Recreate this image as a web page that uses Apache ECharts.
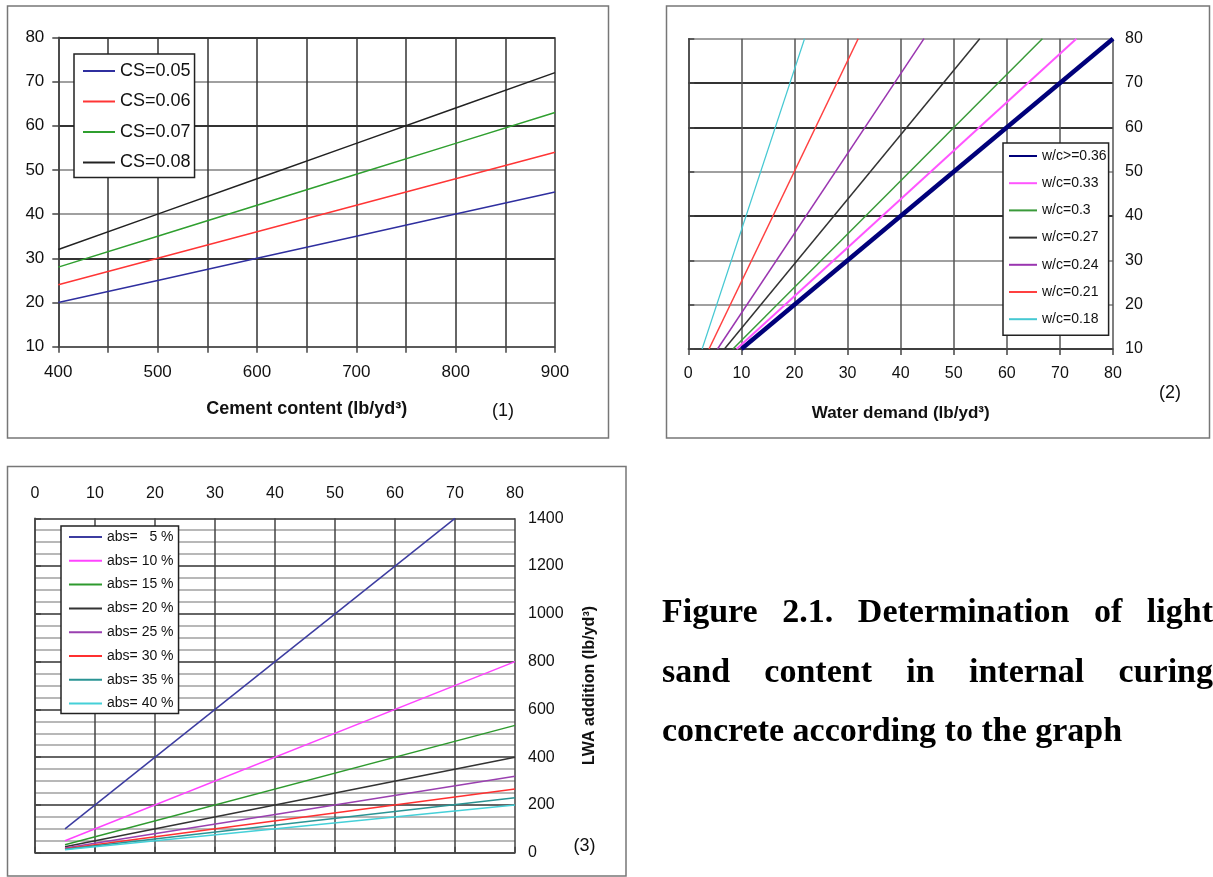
<!DOCTYPE html>
<html>
<head>
<meta charset="utf-8">
<script src="https://cdn.jsdelivr.net/npm/echarts@6/dist/echarts.min.js"></script>
<style>
  body { margin: 0; background: #fff; }
  #main { position: absolute; left: 0; top: 0; width: 1213px; height: 877px; }
  .cap { position: absolute; left: 662px; width: 551px; font: bold 34px "Liberation Serif", "Times New Roman", serif;
         line-height: 34px; color: #000; white-space: nowrap; }
  .just { text-align: justify; text-align-last: justify; white-space: normal; }
</style>
</head>
<body>
<div id="main"></div>
<div class="cap just" style="top:594px">Figure 2.1. Determination of light</div>
<div class="cap just" style="top:654px">sand content in internal curing</div>
<div class="cap" style="top:713px">concrete according to the graph</div>
<script>
// (1) cement content vs CS
const cementContent = [400, 500, 600, 700, 800, 900];
const csNames = ['CS=0.05', 'CS=0.06', 'CS=0.07', 'CS=0.08'];
const cs005 = [20, 25, 30, 35, 40, 45];
const cs006 = [24, 30, 36, 42, 48, 54];
const cs007 = [28, 35, 42, 49, 56, 63];
const cs008 = [32, 40, 48, 56, 64, 72];

// (2) water demand, one straight line per w/c, read at y=10 and y=80
const wcNames = ['w/c>=0.36', 'w/c=0.33', 'w/c=0.3', 'w/c=0.27', 'w/c=0.24', 'w/c=0.21', 'w/c=0.18'];
const wcYEnds = [10, 80];
const wcStartX = [10, 9.1, 8.4, 6.8, 5.5, 3.9, 2.6];
const wcEndX = [80, 73.1, 66.7, 54.9, 44.4, 32.0, 21.9];

// (3) LWA addition
const absNames = ['abs=   5 %', 'abs= 10 %', 'abs= 15 %', 'abs= 20 %', 'abs= 25 %', 'abs= 30 %', 'abs= 35 %', 'abs= 40 %'];
const absStartX = [5, 5, 5, 5, 5, 5, 5, 5];
const absEndX = [70, 80, 80, 80, 80, 80, 80, 80];
const absStartY = [100, 50, 33, 25, 20, 17, 14, 12];
const absEndY = [1400, 800, 533, 400, 320, 267, 230, 200];

const FONT = '"Liberation Sans", Arial, sans-serif';
const csColors = ['#2f2f9f', '#ff3535', '#2f9f2f', '#222222'];
const wcColors = ['#00007a', '#ff55ff', '#3a9a3a', '#333333', '#9a35b0', '#ff4040', '#45c8d2'];
const wcWidths = [4.5, 2, 1.5, 1.5, 1.5, 1.5, 1.2];
const absColors = ['#3c3ca0', '#ff44ff', '#2e9a2e', '#333333', '#9a40b0', '#ff3030', '#2a9494', '#45d0d8'];

const chart = echarts.init(document.getElementById('main'));

function mkLine(name, idx, data, color, width) {
  return {
    name: name, type: 'line', xAxisIndex: idx, yAxisIndex: idx, data: data,
    symbol: 'none', silent: true, lineStyle: { color: color, width: width }, itemStyle: { color: color }
  };
}

let series = [];
[cs005, cs006, cs007, cs008].forEach(function (vals, i) {
  series.push(mkLine(csNames[i], 0, cementContent.map(function (c, j) { return [c, vals[j]]; }), csColors[i], 1.5));
});
wcNames.forEach(function (n, i) {
  series.push(mkLine(n, 1, [[wcStartX[i], wcYEnds[0]], [wcEndX[i], wcYEnds[1]]], wcColors[i], wcWidths[i]));
});
absNames.forEach(function (n, i) {
  series.push(mkLine(n, 2, [[absStartX[i], absStartY[i]], [absEndX[i], absEndY[i]]], absColors[i], 1.5));
});

const G = '#a0a0a0', D = '#333333';
function plain(v) { return String(v); }
function lbl(size, margin, fmt) {
  return { fontFamily: FONT, fontSize: size, color: '#111', margin: margin, formatter: fmt || plain };
}
function tick(len) { return { show: true, length: len, lineStyle: { color: '#444', width: 1.5 } }; }
const axLine = { show: true, lineStyle: { color: '#444', width: 1.5 } };

// legend: line sample only, hide the circle symbol
const legendBase = {
  orient: 'vertical', selectedMode: false, backgroundColor: '#fff',
  borderColor: '#222', borderWidth: 1.5, borderRadius: 0,
  itemStyle: { opacity: 0 }
};

const option = {
  animation: false,
  backgroundColor: '#fff',
  grid: [
    { left: 58.3, top: 37.3, width: 496.7, height: 309.4 },
    { left: 688.3, top: 38.7, width: 424.7, height: 310.3 },
    { left: 35, top: 518.3, width: 480, height: 334.4 }
  ],
  xAxis: [
    { gridIndex: 0, type: 'value', min: 400, max: 900, interval: 50,
      name: 'Cement content (lb/yd³)', nameLocation: 'middle', nameGap: 62,
      nameTextStyle: { fontFamily: FONT, fontSize: 18, fontWeight: 'bold', color: '#111', verticalAlign: 'middle' },
      axisLine: axLine, axisTick: tick(6),
      axisLabel: lbl(17, 17, function (v) { return v % 100 === 0 ? String(v) : ''; }),
      splitLine: { show: true, lineStyle: { color: D, width: 1.5 } } },
    { gridIndex: 1, type: 'value', min: 0, max: 80, interval: 10,
      name: 'Water demand (lb/yd³)', nameLocation: 'middle', nameGap: 64,
      nameTextStyle: { fontFamily: FONT, fontSize: 17, fontWeight: 'bold', color: '#111', verticalAlign: 'middle' },
      axisLine: axLine, axisTick: tick(6), axisLabel: lbl(16, 17),
      splitLine: { show: true, lineStyle: { color: '#555', width: 1.5 } } },
    { gridIndex: 2, type: 'value', position: 'top', min: 0, max: 80, interval: 10,
      axisLine: axLine, axisTick: tick(6), axisLabel: lbl(16, 17),
      splitLine: { show: true, lineStyle: { color: '#444', width: 1.5 } } }
  ],
  yAxis: [
    { gridIndex: 0, type: 'value', min: 10, max: 80, interval: 10,
      axisLine: axLine, axisTick: tick(6), axisLabel: lbl(17, 14),
      splitLine: { show: true, lineStyle: { color: [G, G, D, G, G, D, G, D], width: 2 } } },
    { gridIndex: 1, type: 'value', position: 'right', min: 10, max: 80, interval: 10,
      axisLine: axLine, axisTick: tick(6), axisLabel: lbl(16, 12),
      splitLine: { show: true, lineStyle: { color: [D, G, G, D, G, D, D, G], width: 2 } } },
    { gridIndex: 2, type: 'value', position: 'right', min: 0, max: 1400, interval: 200,
      name: 'LWA addition (lb/yd³)', nameLocation: 'middle', nameGap: 75, nameRotate: 90,
      nameTextStyle: { fontFamily: FONT, fontSize: 16, fontWeight: 'bold', color: '#111', verticalAlign: 'middle' },
      axisLine: axLine, axisTick: tick(6), axisLabel: lbl(16, 13),
      minorTick: { show: false, splitNumber: 4 },
      minorSplitLine: { show: true, lineStyle: { color: '#b8b8b8', width: 2 } },
      splitLine: { show: true, lineStyle: { color: D, width: 1.5 } } }
  ],
  legend: [
    Object.assign({}, legendBase, { data: csNames, left: 74, top: 54, itemWidth: 32, itemHeight: 14, itemGap: 12.5,
      padding: [8, 4, 6, 8], textStyle: { fontFamily: FONT, fontSize: 18, color: '#111' } }),
    Object.assign({}, legendBase, { data: wcNames, left: 1003, top: 143, itemWidth: 28, itemHeight: 14, itemGap: 13.2,
      padding: [6, 2, 9, 5], textStyle: { fontFamily: FONT, fontSize: 14, color: '#111' } }),
    Object.assign({}, legendBase, { data: absNames, left: 61, top: 526, itemWidth: 33, itemHeight: 13, itemGap: 9.8,
      padding: [4, 5, 3, 7], textStyle: { fontFamily: FONT, fontSize: 14, color: '#111' } })
  ],
  graphic: [
    { type: 'rect', shape: { x: 7.5, y: 6, width: 601, height: 432 }, style: { fill: 'none', stroke: '#777', lineWidth: 1.5 }, silent: true },
    { type: 'rect', shape: { x: 666.5, y: 6, width: 543, height: 432 }, style: { fill: 'none', stroke: '#777', lineWidth: 1.5 }, silent: true },
    { type: 'rect', shape: { x: 7.5, y: 466.5, width: 618.5, height: 409.5 }, style: { fill: 'none', stroke: '#777', lineWidth: 1.5 }, silent: true },
    { type: 'text', x: 503, y: 411, style: { text: '(1)', font: '18px ' + FONT, fill: '#111', textAlign: 'center', textVerticalAlign: 'middle' } },
    { type: 'text', x: 1170, y: 393, style: { text: '(2)', font: '18px ' + FONT, fill: '#111', textAlign: 'center', textVerticalAlign: 'middle' } },
    { type: 'text', x: 584.5, y: 846, style: { text: '(3)', font: '18px ' + FONT, fill: '#111', textAlign: 'center', textVerticalAlign: 'middle' } }
  ],
  series: series
};

chart.setOption(option);
</script>
</body>
</html>
